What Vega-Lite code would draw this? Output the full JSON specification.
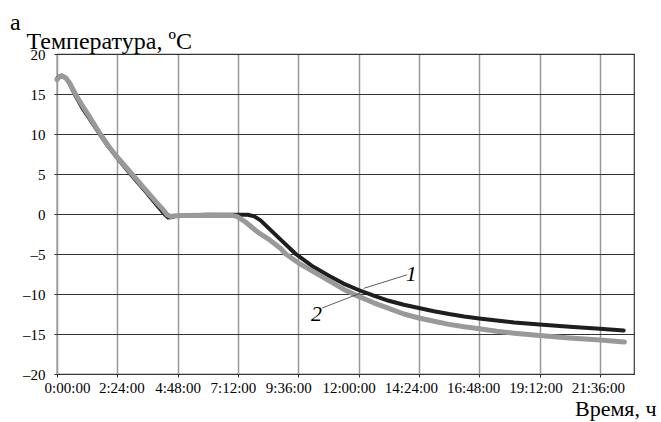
{
  "$schema": "https://vega.github.io/schema/vega-lite/v6.json",
  "width": 577,
  "height": 320,
  "autosize": "none",
  "padding": {"left": 57, "top": 54, "right": 27, "bottom": 48},
  "background": "white",
  "config": {
    "font": "Liberation Serif",
    "view": {"stroke": "#3a3a3a", "strokeWidth": 1.2},
    "axis": {"labelFont": "Liberation Serif", "titleFont": "Liberation Serif", "labelColor": "black", "titleColor": "black", "titleFontWeight": "normal"}
  },
  "title": {"text": "a", "anchor": "start", "frame": "group", "dx": -47, "dy": 12, "fontSize": 24, "font": "Liberation Serif", "fontWeight": "normal", "color": "black", "offset": 6},
  "datasets": {
    "c1": [
      {"h": 0, "t": 16.9}, {"h": 0.1, "t": 17.2}, {"h": 0.2, "t": 17.3}, {"h": 0.35, "t": 17.0}, {"h": 0.5, "t": 16.3},
      {"h": 0.73, "t": 14.8}, {"h": 1.0, "t": 13.3}, {"h": 1.3, "t": 11.9}, {"h": 1.72, "t": 9.9}, {"h": 2.05, "t": 8.4},
      {"h": 2.4, "t": 7.0}, {"h": 2.98, "t": 4.8}, {"h": 3.5, "t": 2.9}, {"h": 4.0, "t": 1.0}, {"h": 4.3, "t": -0.1},
      {"h": 4.42, "t": -0.45}, {"h": 4.55, "t": -0.4}, {"h": 4.7, "t": -0.25}, {"h": 5.0, "t": -0.2}, {"h": 6.0, "t": -0.1},
      {"h": 7.0, "t": -0.1}, {"h": 7.6, "t": -0.1},
      {"h": 7.85, "t": -0.3}, {"h": 8.1, "t": -0.8}, {"h": 8.4, "t": -1.7}, {"h": 8.9, "t": -3.2}, {"h": 9.5, "t": -5.0},
      {"h": 10.2, "t": -6.6}, {"h": 10.8, "t": -7.7}, {"h": 11.4, "t": -8.7}, {"h": 12.0, "t": -9.5}, {"h": 12.6, "t": -10.2},
      {"h": 13.2, "t": -10.85}, {"h": 13.8, "t": -11.35}, {"h": 14.4, "t": -11.75}, {"h": 15.0, "t": -12.15}, {"h": 15.6, "t": -12.5},
      {"h": 16.2, "t": -12.8}, {"h": 16.8, "t": -13.05}, {"h": 17.5, "t": -13.3}, {"h": 18.2, "t": -13.55}, {"h": 19.2, "t": -13.8},
      {"h": 20.4, "t": -14.1}, {"h": 21.6, "t": -14.35}, {"h": 22.55, "t": -14.55}
    ],
    "c2": [
      {"h": 0, "t": 16.8}, {"h": 0.1, "t": 17.15}, {"h": 0.2, "t": 17.25}, {"h": 0.35, "t": 17.0}, {"h": 0.5, "t": 16.4},
      {"h": 0.73, "t": 15.0}, {"h": 1.0, "t": 13.6}, {"h": 1.3, "t": 12.1}, {"h": 1.72, "t": 10.0}, {"h": 2.05, "t": 8.5},
      {"h": 2.4, "t": 7.1}, {"h": 2.98, "t": 5.0}, {"h": 3.5, "t": 3.1}, {"h": 4.0, "t": 1.3}, {"h": 4.25, "t": 0.45},
      {"h": 4.38, "t": -0.1}, {"h": 4.5, "t": -0.3}, {"h": 4.65, "t": -0.25}, {"h": 5.0, "t": -0.2}, {"h": 6.0, "t": -0.15},
      {"h": 7.0, "t": -0.2}, {"h": 7.16, "t": -0.3},
      {"h": 7.5, "t": -1.0}, {"h": 8.0, "t": -2.3}, {"h": 8.4, "t": -3.1}, {"h": 8.9, "t": -4.3}, {"h": 9.1, "t": -5.0},
      {"h": 9.6, "t": -6.1}, {"h": 10.2, "t": -7.2}, {"h": 10.8, "t": -8.3}, {"h": 11.4, "t": -9.4}, {"h": 12.0, "t": -10.3},
      {"h": 12.6, "t": -11.1}, {"h": 13.2, "t": -11.8}, {"h": 13.8, "t": -12.5}, {"h": 14.4, "t": -13.0}, {"h": 15.0, "t": -13.4},
      {"h": 15.6, "t": -13.8}, {"h": 16.2, "t": -14.1}, {"h": 16.8, "t": -14.35}, {"h": 17.5, "t": -14.65}, {"h": 18.2, "t": -14.9},
      {"h": 19.2, "t": -15.2}, {"h": 20.4, "t": -15.5}, {"h": 21.6, "t": -15.75}, {"h": 22.58, "t": -16.0}
    ],
    "leaders": [
      {"h": 12.2, "t": -9.3, "h2": 13.93, "t2": -7.6},
      {"h": 10.55, "t": -11.75, "h2": 12.07, "t2": -9.9}
    ],
    "labels": [
      {"h": 14.1, "t": -8.43, "label": "1"},
      {"h": 10.33, "t": -13.43, "label": "2"}
    ]
  },
  "encoding": {
    "x": {
      "field": "h", "type": "quantitative",
      "scale": {"domain": [0, 22.96], "nice": false, "zero": false},
      "axis": {
        "values": [0, 2.4, 4.8, 7.2, 9.6, 12, 14.4, 16.8, 19.2, 21.6],
        "labelExpr": "floor(datum.value + 0.001) + ':' + (round((datum.value - floor(datum.value + 0.001)) * 60) < 10 ? '0' : '') + round((datum.value - floor(datum.value + 0.001)) * 60) + ':00'",
        "labelFontSize": 15, "labelPadding": 3, "labelFlush": false,
        "labelOffset": {
          "condition": [
            {"test": "datum.value < 1", "value": 10},
            {"test": "datum.value > 2 && datum.value < 3", "value": 4},
            {"test": "datum.value > 7 && datum.value < 8", "value": -5},
            {"test": "datum.value > 9 && datum.value < 10", "value": -10},
            {"test": "datum.value > 11 && datum.value < 13", "value": -10},
            {"test": "datum.value > 14 && datum.value < 15", "value": -8},
            {"test": "datum.value > 16 && datum.value < 17", "value": -6},
            {"test": "datum.value > 19 && datum.value < 20", "value": -4},
            {"test": "datum.value > 21", "value": -2}
          ],
          "value": 0
        },
        "tickSize": 3, "tickColor": "#333", "tickWidth": 1,
        "domainColor": "#333", "domainWidth": 1.2,
        "grid": true, "gridColor": "#999", "gridWidth": 1.5, "gridOpacity": 1,
        "title": "Время, ч", "titleFontSize": 22, "titleAlign": "right", "titleAnchor": null,
        "titleX": 599, "titleY": 41.5, "titleBaseline": "alphabetic"
      }
    },
    "y": {
      "field": "t", "type": "quantitative",
      "scale": {"domain": [-20, 20], "nice": false},
      "axis": {
        "values": [-20, -15, -10, -5, 0, 5, 10, 15, 20],
        "labelExpr": "datum.value < 0 ? '–' + abs(datum.value) : '' + datum.value",
        "labelFontSize": 15, "labelPadding": 9,
        "tickSize": 3, "tickColor": "#333", "tickWidth": 1,
        "domain": false,
        "grid": true, "gridColor": "#333", "gridWidth": 1, "gridOpacity": 1,
        "title": "Температура, ºC", "titleFontSize": 24, "titleAngle": 0, "titleAlign": "left",
        "titleBaseline": "alphabetic", "titleX": -31, "titleY": -6
      }
    }
  },
  "layer": [
    {"data": {"name": "c1"}, "mark": {"type": "line", "color": "#1e1e1e", "strokeWidth": 4, "strokeCap": "round", "strokeJoin": "round"}},
    {"data": {"name": "c2"}, "mark": {"type": "line", "color": "#999999", "strokeWidth": 5, "strokeCap": "round", "strokeJoin": "round"}},
    {"data": {"name": "leaders"}, "mark": {"type": "rule", "color": "#333", "strokeWidth": 0.8},
     "encoding": {"x2": {"field": "h2"}, "y2": {"field": "t2"}}},
    {"data": {"name": "labels"}, "mark": {"type": "text", "font": "Liberation Serif", "fontStyle": "italic", "fontSize": 22, "align": "center", "baseline": "alphabetic", "color": "black"},
     "encoding": {"text": {"field": "label"}}}
  ]
}
